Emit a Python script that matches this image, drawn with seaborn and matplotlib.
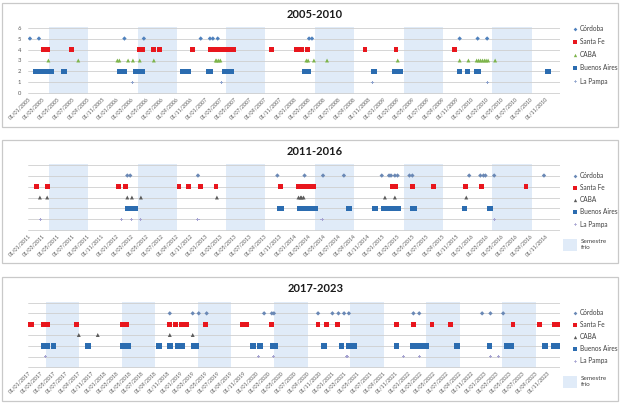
import pandas as pd
import matplotlib.pyplot as plt
import matplotlib.dates as mdates
from matplotlib.patches import Rectangle, Patch
from matplotlib.lines import Line2D
import seaborn as sns

sns.set_theme(style='white')
plt.rcParams['font.family'] = ['Lato', 'DejaVu Sans']

# ---------------------------------------------------------
# datos: fechas de eventos por provincia y periodo
# ---------------------------------------------------------
series = ['Córdoba', 'Santa Fe', 'CABA', 'Buenos Aires', 'La Pampa']
levels = [5, 4, 3, 2, 1]

# 2005-2010
cordoba_0510 = ['2005-01-09', '2005-02-15', '2006-02-02', '2006-04-23', '2006-12-13', '2007-01-20',
                '2007-02-01', '2007-02-21', '2008-03-03', '2008-03-15', '2009-11-13', '2010-01-26',
                '2010-03-06']
santafe_0510 = ['2005-03-05', '2005-03-13', '2005-03-17', '2005-03-21', '2005-06-28', '2006-04-06',
                '2006-04-18', '2006-06-03', '2006-06-27', '2006-11-10', '2007-01-20', '2007-01-24',
                '2007-01-28', '2007-02-05', '2007-02-09', '2007-02-13', '2007-02-21', '2007-02-25',
                '2007-02-28', '2007-03-20', '2007-04-06', '2007-04-26', '2007-09-29', '2008-01-11',
                '2008-02-01', '2008-02-25', '2008-10-19', '2009-02-24', '2009-10-23']
caba_0510 = ['2005-03-26', '2005-07-27', '2006-01-04', '2006-01-12', '2006-02-17', '2006-03-09',
             '2006-04-06', '2006-06-03', '2007-02-13', '2007-02-17', '2007-02-25', '2007-03-04',
             '2008-02-21', '2008-02-28', '2008-03-23', '2008-05-16', '2009-03-03', '2009-11-13',
             '2009-12-19', '2010-01-22', '2010-01-30', '2010-02-07', '2010-02-15', '2010-02-23',
             '2010-03-02', '2010-03-10', '2010-04-08']
bsas_0510 = ['2005-02-02', '2005-02-06', '2005-02-15', '2005-03-09', '2005-03-17', '2005-03-21',
             '2005-03-30', '2005-04-07', '2005-05-30', '2006-01-12', '2006-02-02', '2006-03-21',
             '2006-04-03', '2006-04-15', '2006-10-01', '2006-10-21', '2007-01-16', '2007-01-20',
             '2007-03-24', '2007-04-02', '2007-04-10', '2007-04-18', '2008-02-13', '2008-02-21',
             '2008-02-28', '2008-11-26', '2009-02-20', '2009-02-28', '2009-03-07', '2009-03-15',
             '2009-11-13', '2009-12-15', '2010-01-22', '2010-01-30', '2010-11-12']
lapampa_0510 = ['2006-03-09', '2007-03-08', '2008-11-18', '2010-03-06']

# 2011-2016
cordoba_1116 = ['2012-02-14', '2012-02-26', '2012-12-01', '2013-10-24', '2014-02-13', '2014-04-30',
                '2014-07-25', '2014-12-28', '2015-01-27', '2015-02-04', '2015-02-20', '2015-03-03',
                '2015-04-21', '2015-05-03', '2015-12-23', '2016-02-07', '2016-02-20', '2016-02-28',
                '2016-04-04', '2016-10-26']
santafe_1116 = ['2011-02-06', '2011-03-21', '2012-01-08', '2012-02-06', '2012-09-14', '2012-10-24',
                '2012-12-13', '2013-02-13', '2013-11-06', '2014-01-19', '2014-01-27', '2014-02-05',
                '2014-02-13', '2014-03-07', '2014-03-23', '2015-02-08', '2015-02-16', '2015-02-24',
                '2015-05-03', '2015-07-28', '2015-12-07', '2016-02-11', '2016-08-13']
caba_1116 = ['2011-02-19', '2011-03-21', '2012-02-14', '2012-03-04', '2012-04-10', '2013-02-17',
             '2014-01-19', '2014-01-27', '2014-02-01', '2014-02-09', '2015-01-10', '2015-02-20',
             '2015-12-11']
bsas_1116 = ['2012-02-14', '2012-02-26', '2012-03-04', '2012-03-17', '2013-11-02', '2013-11-10',
             '2014-01-23', '2014-02-01', '2014-02-09', '2014-02-17', '2014-03-11', '2014-03-28',
             '2014-08-15', '2014-11-30', '2015-01-06', '2015-01-14', '2015-01-23', '2015-02-16',
             '2015-03-07', '2015-05-03', '2015-05-11', '2015-12-03', '2016-03-18']
lapampa_1116 = ['2011-02-23', '2012-01-20', '2012-03-01', '2012-04-10', '2012-12-01', '2014-04-26',
                '2016-04-04']

# 2017-2023
cordoba_1723 = ['2018-11-13', '2019-03-03', '2019-04-01', '2019-05-09', '2020-02-09', '2020-03-17',
                '2020-03-27', '2020-10-25', '2021-01-02', '2021-01-31', '2021-02-27', '2021-03-22',
                '2022-01-26', '2022-02-23', '2022-12-22', '2023-01-31', '2023-04-02']
santafe_1723 = ['2017-01-01', '2017-01-10', '2017-01-20', '2017-03-16', '2017-03-26', '2017-04-05',
                '2017-08-23', '2018-04-01', '2018-04-20', '2018-11-13', '2018-12-12', '2019-01-10',
                '2019-01-20', '2019-02-04', '2019-05-04', '2019-10-30', '2019-11-18', '2020-03-17',
                '2020-10-25', '2020-12-03', '2021-01-26', '2021-11-05', '2022-01-26', '2022-04-25',
                '2022-07-25', '2023-05-19', '2023-09-23', '2023-12-04', '2023-12-18']
caba_1723 = ['2017-09-02', '2017-12-02', '2018-11-13', '2019-03-03']
bsas_1723 = ['2017-03-16', '2017-04-01', '2017-05-04', '2017-10-15', '2018-04-01', '2018-04-15',
             '2018-04-25', '2018-09-21', '2018-11-13', '2018-12-22', '2019-01-10', '2019-03-07',
             '2019-03-22', '2019-12-17', '2020-01-20', '2020-03-22', '2020-04-01', '2020-11-23',
             '2021-02-14', '2021-03-22', '2021-04-06', '2021-04-16', '2021-11-05', '2022-01-21',
             '2022-01-31', '2022-02-10', '2022-02-23', '2022-03-08', '2022-03-27', '2022-08-24',
             '2023-01-26', '2023-04-21', '2023-05-10', '2023-10-21', '2023-11-29', '2023-12-13',
             '2023-12-23']
lapampa_1723 = ['2017-03-26', '2020-01-11', '2020-03-27', '2021-03-13', '2021-12-08', '2022-02-23',
                '2023-01-31', '2023-03-09']

# semestre frio (mes, dia) inicio / fin
frio_inicio = (3, 28)
frio_fin = (9, 5)

# ---------------------------------------------------------
# estilos
# ---------------------------------------------------------
shade_color = '#E0EBF8'
markers = {'Córdoba': 'D', 'Santa Fe': 's', 'CABA': '^', 'Buenos Aires': 's', 'La Pampa': 'P'}
sizes = {'Córdoba': 5, 'Santa Fe': 12, 'CABA': 8, 'Buenos Aires': 16, 'La Pampa': 5}
colors_a = {'Córdoba': '#4F81BD', 'Santa Fe': '#E8161D', 'CABA': '#7DB44A',
            'Buenos Aires': '#2B6CB0', 'La Pampa': '#8FA3CC'}
colors_b = {'Córdoba': '#6A88B5', 'Santa Fe': '#E8161D', 'CABA': '#5A5A5A',
            'Buenos Aires': '#2B6CB0', 'La Pampa': '#A6A3D1'}

panels = [
    dict(title='2005-2010', years=(2005, 2010),
         data=[cordoba_0510, santafe_0510, caba_0510, bsas_0510, lapampa_0510],
         colors=colors_a, box=(2, 3, 618, 127), ax_px=(28, 27, 560, 94), title_y=15,
         yticks=True, leg_y=24.8, leg_sp=0.95, frio_y=None),
    dict(title='2011-2016', years=(2011, 2016),
         data=[cordoba_1116, santafe_1116, caba_1116, bsas_1116, lapampa_1116],
         colors=colors_b, box=(2, 140, 618, 263), ax_px=(28, 164, 560, 231), title_y=151,
         yticks=False, leg_y=171.8, leg_sp=0.80, frio_y=239),
    dict(title='2017-2023', years=(2017, 2023),
         data=[cordoba_1723, santafe_1723, caba_1723, bsas_1723, lapampa_1723],
         colors=colors_b, box=(2, 277, 618, 401), ax_px=(28, 302, 560, 368), title_y=289,
         yticks=False, leg_y=308.8, leg_sp=0.77, frio_y=376),
]

W, H = 624, 405
fig = plt.figure(figsize=(W / 100, H / 100), dpi=100)
fig.patch.set_facecolor('white')

for p in panels:
    # recuadro del panel
    x0, y0, x1, y1 = p['box']
    fig.add_artist(Rectangle((x0 / W, 1 - y1 / H), (x1 - x0) / W, (y1 - y0) / H,
                             transform=fig.transFigure, facecolor='white',
                             edgecolor='#C9C9C9', lw=0.9, zorder=0))

    l, t, r, b = p['ax_px']
    ax = fig.add_axes([l / W, 1 - b / H, (r - l) / W, (b - t) / H])
    ax.set_facecolor('none')

    y_a, y_b = p['years']
    for yr in range(y_a, y_b + 1):
        ax.axvspan(pd.Timestamp(yr, *frio_inicio), pd.Timestamp(yr, *frio_fin),
                   color=shade_color, lw=0, zorder=0)

    for name, lvl, fechas in zip(series, levels, p['data']):
        df = pd.DataFrame({'fecha': pd.to_datetime(fechas), 'nivel': lvl})
        sns.scatterplot(data=df, x='fecha', y='nivel', ax=ax, marker=markers[name],
                        s=sizes[name], color=p['colors'][name], edgecolor='none',
                        linewidth=0, legend=False, zorder=3)

    ax.set_xlim(pd.Timestamp(y_a, 1, 1), pd.Timestamp(y_b, 12, 31))
    ax.set_ylim(-0.05, 6.05)
    ax.set_yticks(range(7))
    ax.grid(axis='y', color='#CFCFCF', lw=0.6, zorder=1)
    ax.grid(axis='x', visible=False)
    for s in ax.spines.values():
        s.set_visible(False)
    ax.set_xlabel('')
    ax.set_ylabel('')

    ax.xaxis.set_major_locator(mdates.MonthLocator(bymonth=[1, 3, 5, 7, 9, 11], bymonthday=1))
    ax.xaxis.set_major_formatter(mdates.DateFormatter('%d/%m/%Y'))
    ax.tick_params(axis='x', length=0, pad=1.5, labelsize=3.8, labelcolor='#595959')
    plt.setp(ax.get_xticklabels(), rotation=45, ha='right', rotation_mode='anchor')
    if p['yticks']:
        ax.tick_params(axis='y', length=0, pad=5, labelsize=4.2, labelcolor='#595959')
    else:
        ax.tick_params(axis='y', length=0, labelleft=False)

    fig.text(0.505, 1 - p['title_y'] / H, p['title'], ha='center', va='center',
             fontsize=8, fontweight='bold', color='#1A1A1A')

    # leyenda
    handles = [Line2D([], [], ls='none', marker=markers[n], color=p['colors'][n],
                      markeredgewidth=0, markersize=(sizes[n] ** 0.5) * 0.85) for n in series]
    leg = ax.legend(handles, series, loc='upper left', bbox_to_anchor=(573 / W, 1 - p['leg_y'] / H),
                    bbox_transform=fig.transFigure, frameon=False, fontsize=4.7,
                    handlelength=0.6, handletextpad=0.45, borderpad=0, borderaxespad=0,
                    labelspacing=p['leg_sp'])
    for txt in leg.get_texts():
        txt.set_color('#404040')
    if p['frio_y'] is not None:
        ax.add_artist(leg)
        leg2 = ax.legend([Patch(facecolor=shade_color, edgecolor='none')], ['Semestre\nfrío'],
                         loc='upper left', bbox_to_anchor=(563 / W, 1 - p['frio_y'] / H),
                         bbox_transform=fig.transFigure, frameon=False, fontsize=4.6,
                         handlelength=2.2, handleheight=2.4, handletextpad=0.6,
                         borderpad=0, borderaxespad=0)
        for txt in leg2.get_texts():
            txt.set_color('#404040')

fig.savefig('out.png', dpi=100, facecolor='white')
